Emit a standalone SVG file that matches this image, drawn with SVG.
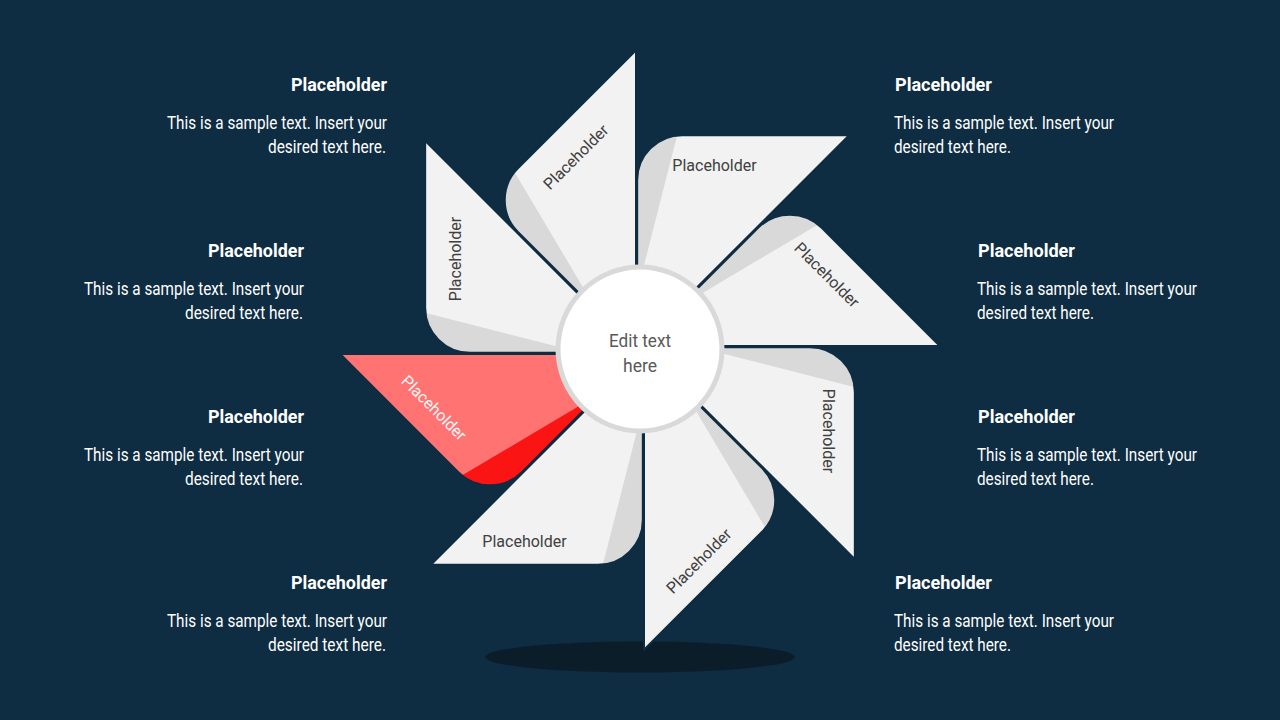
<svg xmlns="http://www.w3.org/2000/svg" xmlns:xlink="http://www.w3.org/1999/xlink" width="1280" height="720" viewBox="0 0 1280 720">
<style>
.bg{fill:#0e2c42}
.leaf{fill:#f2f2f2}
.band{fill:#d9d9d9}
.leafR{fill:#ff7373}
.bandR{fill:#fb1414}
.edge{fill:none;stroke:#0e2c42;stroke-width:2;stroke-linejoin:round}
.bt{font-family:Roboto,"Liberation Sans",sans-serif;font-size:16px;fill:#404040;text-anchor:middle;dominant-baseline:central}
.btR{fill:#f7f7f7}
.title{font-family:Roboto,"Liberation Sans",sans-serif;font-size:18px;font-weight:bold;fill:#ffffff}
.body{font-family:Roboto,"Liberation Sans",sans-serif;font-size:18px;fill:#ffffff}
.ct{font-family:Roboto,"Liberation Sans",sans-serif;font-size:19px;fill:#595959;text-anchor:middle}
</style>
<defs>
<path id="blade" d="M0,0 L0,-167 A45,45 0 0 1 45,-212 L212,-212 Z"/>
<path id="bandShape" d="M44.6,-230 L-14,0 L-60,0 L-60,-230 Z"/>
<clipPath id="bc"><use xlink:href="#blade"/></clipPath>
</defs>
<rect class="bg" x="0" y="0" width="1280" height="720"/>
<ellipse id="shadow" cx="640" cy="657" rx="155" ry="15.5" fill="#0c1d2a"/>

<g id="blade-ur">
<g transform="rotate(0,640,350) translate(637.17,347.17)"><use xlink:href="#blade" class="leaf"/><use xlink:href="#bandShape" class="band" clip-path="url(#bc)"/><use xlink:href="#blade" class="edge"/></g>
<text class="bt" x="714.5" y="165">Placeholder</text>
</g>
<g id="blade-r">
<g transform="rotate(45,640,350) translate(637.17,347.17)"><use xlink:href="#blade" class="leaf"/><use xlink:href="#bandShape" class="band" clip-path="url(#bc)"/><use xlink:href="#blade" class="edge"/></g>
<text class="bt" x="827" y="275" transform="rotate(45,827,275)">Placeholder</text>
</g>
<g id="blade-lr">
<g transform="rotate(90,640,350) translate(637.17,347.17)"><use xlink:href="#blade" class="leaf"/><use xlink:href="#bandShape" class="band" clip-path="url(#bc)"/><use xlink:href="#blade" class="edge"/></g>
<text class="bt" x="828" y="431" transform="rotate(90,828,431)">Placeholder</text>
</g>
<g id="blade-b">
<g transform="rotate(135,640,350) translate(637.17,347.17)"><use xlink:href="#blade" class="leaf"/><use xlink:href="#bandShape" class="band" clip-path="url(#bc)"/><use xlink:href="#blade" class="edge"/></g>
<text class="bt" x="699" y="561" transform="rotate(-45,699,561)">Placeholder</text>
</g>
<g id="blade-ll">
<g transform="rotate(180,640,350) translate(637.17,347.17)"><use xlink:href="#blade" class="leaf"/><use xlink:href="#bandShape" class="band" clip-path="url(#bc)"/><use xlink:href="#blade" class="edge"/></g>
<text class="bt" x="524.5" y="541">Placeholder</text>
</g>
<g id="blade-l-red">
<g transform="rotate(225,640,350) translate(637.17,347.17)"><use xlink:href="#blade" class="leafR"/><use xlink:href="#bandShape" class="bandR" clip-path="url(#bc)"/><use xlink:href="#blade" class="edge"/></g>
<text class="bt btR" x="434" y="408" transform="rotate(45,434,408)">Placeholder</text>
</g>
<g id="blade-ul">
<g transform="rotate(270,640,350) translate(637.17,347.17)"><use xlink:href="#blade" class="leaf"/><use xlink:href="#bandShape" class="band" clip-path="url(#bc)"/><use xlink:href="#blade" class="edge"/></g>
<text class="bt" x="455" y="259" transform="rotate(-90,455,259)">Placeholder</text>
</g>
<g id="blade-t">
<g transform="rotate(315,640,350) translate(637.17,347.17)"><use xlink:href="#blade" class="leaf"/><use xlink:href="#bandShape" class="band" clip-path="url(#bc)"/><use xlink:href="#blade" class="edge"/></g>
<text class="bt" x="576" y="157" transform="rotate(-45,576,157)">Placeholder</text>
</g>

<g id="center">
<circle cx="640" cy="349" r="82" fill="#ffffff" stroke="#d9d9d9" stroke-width="5"/>
<text class="ct" x="640" y="347" textLength="62" lengthAdjust="spacingAndGlyphs">Edit text</text>
<text class="ct" x="640" y="372" textLength="34" lengthAdjust="spacingAndGlyphs">here</text>
</g>

<g id="label-left-1">
<text class="title" x="291" y="91" textLength="96" lengthAdjust="spacingAndGlyphs">Placeholder</text>
<text class="body" x="167" y="129" textLength="220" lengthAdjust="spacingAndGlyphs">This is a sample text. Insert your</text>
<text class="body" x="268" y="153" textLength="118" lengthAdjust="spacingAndGlyphs">desired text here.</text>
</g>
<g id="label-left-2">
<text class="title" x="208" y="257" textLength="96" lengthAdjust="spacingAndGlyphs">Placeholder</text>
<text class="body" x="84" y="295" textLength="220" lengthAdjust="spacingAndGlyphs">This is a sample text. Insert your</text>
<text class="body" x="185" y="319" textLength="118" lengthAdjust="spacingAndGlyphs">desired text here.</text>
</g>
<g id="label-left-3">
<text class="title" x="208" y="423" textLength="96" lengthAdjust="spacingAndGlyphs">Placeholder</text>
<text class="body" x="84" y="461" textLength="220" lengthAdjust="spacingAndGlyphs">This is a sample text. Insert your</text>
<text class="body" x="185" y="485" textLength="118" lengthAdjust="spacingAndGlyphs">desired text here.</text>
</g>
<g id="label-left-4">
<text class="title" x="291" y="589" textLength="96" lengthAdjust="spacingAndGlyphs">Placeholder</text>
<text class="body" x="167" y="627" textLength="220" lengthAdjust="spacingAndGlyphs">This is a sample text. Insert your</text>
<text class="body" x="268" y="651" textLength="118" lengthAdjust="spacingAndGlyphs">desired text here.</text>
</g>
<g id="label-right-1">
<text class="title" x="895" y="91" textLength="97" lengthAdjust="spacingAndGlyphs">Placeholder</text>
<text class="body" x="894" y="129" textLength="220" lengthAdjust="spacingAndGlyphs">This is a sample text. Insert your</text>
<text class="body" x="894" y="153" textLength="117" lengthAdjust="spacingAndGlyphs">desired text here.</text>
</g>
<g id="label-right-2">
<text class="title" x="978" y="257" textLength="97" lengthAdjust="spacingAndGlyphs">Placeholder</text>
<text class="body" x="977" y="295" textLength="220" lengthAdjust="spacingAndGlyphs">This is a sample text. Insert your</text>
<text class="body" x="977" y="319" textLength="117" lengthAdjust="spacingAndGlyphs">desired text here.</text>
</g>
<g id="label-right-3">
<text class="title" x="978" y="423" textLength="97" lengthAdjust="spacingAndGlyphs">Placeholder</text>
<text class="body" x="977" y="461" textLength="220" lengthAdjust="spacingAndGlyphs">This is a sample text. Insert your</text>
<text class="body" x="977" y="485" textLength="117" lengthAdjust="spacingAndGlyphs">desired text here.</text>
</g>
<g id="label-right-4">
<text class="title" x="895" y="589" textLength="97" lengthAdjust="spacingAndGlyphs">Placeholder</text>
<text class="body" x="894" y="627" textLength="220" lengthAdjust="spacingAndGlyphs">This is a sample text. Insert your</text>
<text class="body" x="894" y="651" textLength="117" lengthAdjust="spacingAndGlyphs">desired text here.</text>
</g>
</svg>
